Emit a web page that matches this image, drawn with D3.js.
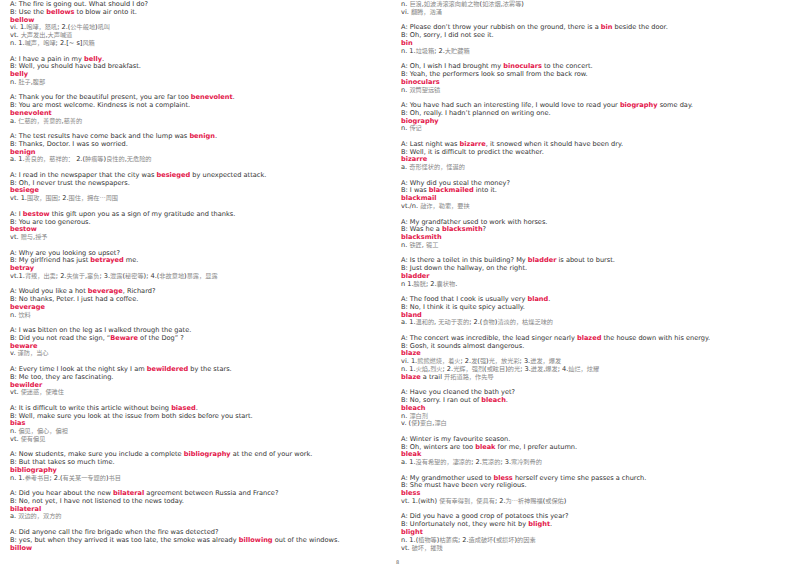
<!DOCTYPE html>
<html><head><meta charset="utf-8">
<script src="https://cdn.jsdelivr.net/npm/d3@7"></script>
<style>body{margin:0;background:#fff}</style>
</head><body><svg id="c" width="800" height="566"></svg>
<script>
// Lines of the left column; **word** = red bold highlight, "" = blank line
const leftLines = [
"A: The fire is going out. What should I do?","B: Use the **bellows** to blow air onto it.","**bellow**","vi. 1.咆哮，怒吼; 2.(公牛般地)吼叫","vt. 大声发出,大声喊道","n. 1.喊声，咆哮; 2.[~ s]风箱","",
"A: I have a pain in my **belly**.","B: Well, you should have bad breakfast.","**belly**","n. 肚子,腹部","",
"A: Thank you for the beautiful present, you are far too **benevolent**.","B: You are most welcome. Kindness is not a complaint.","**benevolent**","a. 仁慈的，善意的,慈善的","",
"A: The test results have come back and the lump was **benign**.","B: Thanks, Doctor. I was so worried.","**benign**","a. 1.善良的，慈祥的： 2.(肿瘤等)良性的,无危险的","",
"A: I read in the newspaper that the city was **besieged** by unexpected attack.","B: Oh, I never trust the newspapers.","**besiege**","vt. 1.围攻，围困; 2.围住，拥在…周围","",
"A: I **bestow** this gift upon you as a sign of my gratitude and thanks.","B: You are too generous.","**bestow**","vt. 赠与,授予","",
"A: Why are you looking so upset?","B: My girlfriend has just **betrayed** me.","**betray**","vt.1.背叛，出卖; 2.失信于,辜负; 3.泄露(秘密等); 4.(非故意地)暴露，显露","",
"A: Would you like a hot **beverage**, Richard?","B: No thanks, Peter. I just had a coffee.","**beverage**","n. 饮料","",
"A: I was bitten on the leg as I walked through the gate.","B: Did you not read the sign, “**Beware** of the Dog” ?","**beware**","v. 谨防，当心","",
"A: Every time I look at the night sky I am **bewildered** by the stars.","B: Me too, they are fascinating.","**bewilder**","vt. 使迷惑，使难住","",
"A: It is difficult to write this article without being **biased**.","B: Well, make sure you look at the issue from both sides before you start.","**bias**","n. 偏见，偏心，偏袒","vt. 使有偏见","",
"A: Now students, make sure you include a complete **bibliography** at the end of your work.","B: But that takes so much time.","**bibliography**","n. 1.参考书目; 2.(有关某一专题的)书目","",
"A: Did you hear about the new **bilateral** agreement between Russia and France?","B: No, not yet, I have not listened to the news today.","**bilateral**","a. 双边的，双方的","",
"A: Did anyone call the fire brigade when the fire was detected?","B: yes, but when they arrived it was too late, the smoke was already **billowing** out of the windows.","**billow**"
];
const rightLines = [
"n. 巨浪,如波涛滚滚向前之物(如浓烟,浓雾等)","vi. 翻腾，汹涌","",
"A: Please don’t throw your rubbish on the ground, there is a **bin** beside the door.","B: Oh, sorry, I did not see it.","**bin**","n. 1.垃圾箱; 2.大贮藏箱","",
"A: Oh, I wish I had brought my **binoculars** to the concert.","B: Yeah, the performers look so small from the back row.","**binoculars**","n. 双筒望远镜","",
"A: You have had such an interesting life, I would love to read your **biography** some day.","B: Oh, really. I hadn’t planned on writing one.","**biography**","n. 传记","",
"A: Last night was **bizarre**, it snowed when it should have been dry.","B: Well, it is difficult to predict the weather.","**bizarre**","a. 奇形怪状的，怪诞的","",
"A: Why did you steal the money?","B: I was **blackmailed** into it.","**blackmail**","vt./n. 敲诈，勒索，要挟","",
"A: My grandfather used to work with horses.","B: Was he a **blacksmith**?","**blacksmith**","n. 铁匠, 锻工","",
"A: Is there a toilet in this building? My **bladder** is about to burst.","B: Just down the hallway, on the right.","**bladder**","n 1.膀胱; 2.囊状物.","",
"A: The food that I cook is usually very **bland**.","B: No, I think it is quite spicy actually.","**bland**","a. 1.温和的, 无动于衷的; 2.(食物)清淡的，枯燥乏味的","",
"A: The concert was incredible, the lead singer nearly **blazed** the house down with his energy.","B: Gosh, it sounds almost dangerous.","**blaze**","vi. 1.熊熊燃烧，着火; 2.发(强)光，放光彩; 3.迸发，爆发","n. 1.火焰,烈火; 2.光辉，强烈(或眩目)的光; 3.迸发,爆发; 4.灿烂，炫耀","**blaze** a trail 开拓道路，作先导","",
"A: Have you cleaned the bath yet?","B: No, sorry. I ran out of **bleach**.","**bleach**","n. 漂白剂","v. (使)变白,漂白","",
"A: Winter is my favourite season.","B: Oh, winters are too **bleak** for me, I prefer autumn.","**bleak**","a. 1.没有希望的，凄凉的; 2.荒凉的; 3.寒冷刺骨的","",
"A: My grandmother used to **bless** herself every time she passes a church.","B: She must have been very religious.","**bless**","vt. 1.(with) 使有幸得到，使具有; 2.为…祈神赐福(或保佑)","",
"A: Did you have a good crop of potatoes this year?","B: Unfortunately not, they were hit by **blight**.","**blight**","n. 1.(植物等)枯萎病; 2.造成破坏(或损坏)的因素","vt. 破坏，摧残"
];
const pageNumber = "8";

const svg = d3.select("#c");
const n = Math.max(leftLines.length, rightLines.length);
const y = d3.scaleLinear().domain([0, 70]).range([6.2, 549.5]);
const cols = [{x: 10, lines: leftLines}, {x: 401, lines: rightLines}];
const cjk = /([\u2000-\u206f\u3000-\u303f\u3400-\u9fff\uff00-\uffef…]+)/;

cols.forEach(col => {
  const g = svg.append("g");
  col.lines.forEach((line, i) => {
    if (!line) return;
    const t = g.append("text").attr("x", col.x).attr("y", y(i))
      .attr("font-family", "'DejaVu Sans', Verdana, sans-serif").attr("font-size", 6.6).attr("fill", "#333");
    line.split(/\*\*(.+?)\*\*/).forEach((part, k) => {
      if (!part) return;
      if (k % 2 === 1) {
        t.append("tspan").text(part).attr("fill", "#e3174b").attr("font-weight", "bold");
      } else {
        part.split(cjk).forEach((p, j) => {
          if (!p) return;
          const s = t.append("tspan").text(p);
          if (j % 2 === 1 && !/^[“”’]+$/.test(p)) s.attr("fill", "#888").attr("font-family", "'Noto Sans CJK SC', sans-serif").attr("font-size", 6.2);
        });
      }
    });
  });
});
svg.append("text").attr("x", 396).attr("y", 564).attr("font-family", "'DejaVu Sans', sans-serif")
  .attr("font-size", 5).attr("fill", "#555").text(pageNumber);
</script></body></html>
